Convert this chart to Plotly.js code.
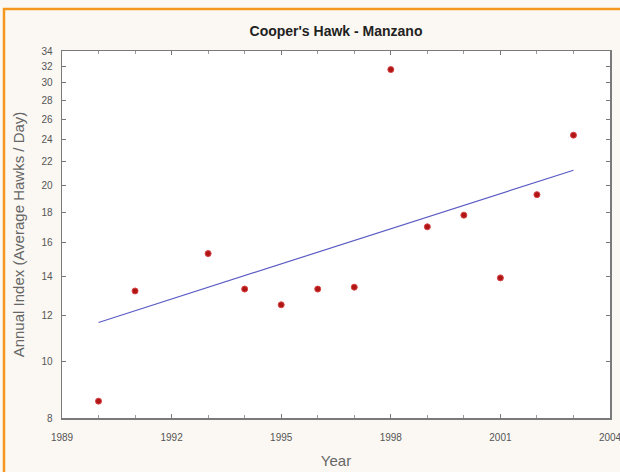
<!DOCTYPE html>
<html>
<head>
<meta charset="utf-8">
<script src="https://cdn.plot.ly/plotly-3.0.1.min.js"></script>
<style>
html,body{margin:0;padding:0;background:#fbf8f3;}
#chart{width:620px;height:472px;}
</style>
</head>
<body>
<div id="chart"></div>
<script>
// Data
var years = [1990, 1991, 1993, 1994, 1995, 1996, 1997, 1998, 1999, 2000, 2001, 2002, 2003];
var annualIndex = [8.55, 13.2, 15.3, 13.3, 12.5, 13.3, 13.4, 31.6, 17.0, 17.8, 13.9, 19.3, 24.4];
var fitYears = [1990, 2003];
var fitValues = [11.66, 21.25];
var yTickValues = [8, 10, 12, 14, 16, 18, 20, 22, 24, 26, 28, 30, 32, 34];
var xTickValues = [1989, 1992, 1995, 1998, 2001, 2004];

var traces = [
  {
    x: fitYears, y: fitValues, type: 'scatter', mode: 'lines',
    line: {color: '#5b5bc4', width: 1.2}, hoverinfo: 'skip', showlegend: false
  },
  {
    x: years, y: annualIndex, type: 'scatter', mode: 'markers',
    marker: {color: '#b01515', size: 6, symbol: 'circle', line: {color: '#d84545', width: 1}},
    showlegend: false
  }
];

var layout = {
  width: 620, height: 472,
  paper_bgcolor: '#fbf8f3', plot_bgcolor: '#ffffff',
  margin: {l: 62, r: 10, t: 51, b: 54},
  font: {family: 'Liberation Sans, Arial, sans-serif', color: '#333'},
  title: {
    text: "<b>Cooper's Hawk - Manzano</b>",
    font: {size: 14, color: '#222', family: 'Liberation Sans, Arial, sans-serif'},
    x: 0.5, xanchor: 'center', xref: 'paper',
    y: 1 - 31/472, yref: 'container', yanchor: 'middle'
  },
  xaxis: {
    range: [1989, 2004], tickvals: xTickValues, ticktext: xTickValues.map(String),
    ticks: 'inside', ticklen: 4, tickcolor: '#777', tickwidth: 1,
    minor: {dtick: 1, tick0: 1989, ticks: 'inside', ticklen: 3, tickcolor: '#999'},
    showgrid: false, zeroline: false,
    showline: true, linecolor: '#7a7a7a', linewidth: 1.5, mirror: 'ticks',
    tickfont: {size: 10, color: '#555'}, ticklabelstandoff: 9, ticklabeloverflow: 'allow',
    title: {text: 'Year', font: {size: 15, color: '#666'}, standoff: 14}
  },
  yaxis: {
    type: 'log', range: [Math.log10(8), Math.log10(34)],
    tickvals: yTickValues, ticktext: yTickValues.map(String),
    ticks: 'inside', ticklen: 4, tickcolor: '#777', tickwidth: 1,
    showgrid: false, zeroline: false,
    showline: true, linecolor: '#7a7a7a', linewidth: 1.5, mirror: 'ticks',
    tickfont: {size: 10, color: '#555'}, ticklabelstandoff: 6, ticklabeloverflow: 'allow',
    title: {text: 'Annual Index (Average Hawks / Day)', font: {size: 15, color: '#666'}, standoff: 13}
  },
  shapes: [
    {type: 'line', xref: 'paper', yref: 'paper',
     x0: (3 - 62) / 548, x1: (625 - 62) / 548, y0: (418 - 9) / 367, y1: (418 - 9) / 367,
     line: {color: '#f5961e', width: 2.5}},
    {type: 'line', xref: 'paper', yref: 'paper',
     x0: (4 - 62) / 548, x1: (4 - 62) / 548, y0: (418 - 8) / 367, y1: (418 - 480) / 367,
     line: {color: '#f5961e', width: 2.5}}
  ]
};

Plotly.newPlot('chart', traces, layout, {displayModeBar: false, staticPlot: true});
</script>
</body>
</html>
